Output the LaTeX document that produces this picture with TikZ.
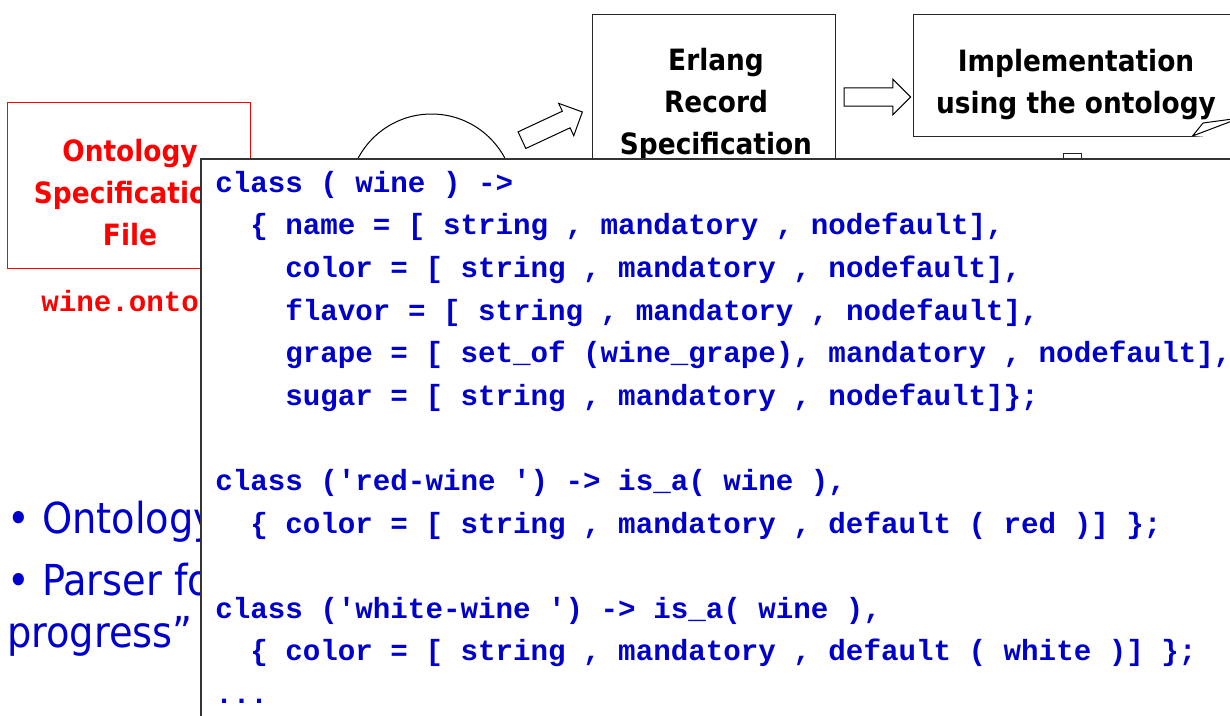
\documentclass[tikz,border=0pt]{standalone}
\usepackage{fontspec}
\usetikzlibrary{positioning,shapes.arrows}
\IfFontExistsTF{DejaVu Sans Condensed}
  {\newfontfamily\labelfont{DejaVu Sans Condensed}}
  {\newfontfamily\labelfont[FakeStretch=0.9]{DejaVu Sans}}
\newfontfamily\codefont[Ligatures=TeXOff]{Liberation Mono}
\definecolor{codeblue}{RGB}{0,0,204}
\definecolor{specred}{RGB}{255,0,0}

\begin{document}
\begin{tikzpicture}[x=0.75pt,y=-0.75pt]
    \tikzstyle{box}=[draw=black!85,line width=0.75pt,inner sep=0pt]
    \tikzstyle{lbl}=[font=\labelfont\bfseries\fontsize{22}{31.5}\selectfont,align=center,inner sep=0pt]
    \tikzstyle{code}=[font=\codefont\bfseries\fontsize{21.9}{31.95}\selectfont,text=codeblue,align=left,inner sep=0pt]
    \tikzstyle{bul}=[font=\labelfont\fontsize{32}{39}\selectfont,text=codeblue,inner sep=0pt,anchor=base west]
    \tikzstyle{blkarrow}=[single arrow,draw=black,line width=0.75pt,fill=white,inner xsep=0pt,inner ysep=6.5pt,
                          single arrow head extend=6.5pt,minimum height=50pt]
    \useasboundingbox (0,0) rectangle (1230,715);

    % left: spec file
    \node[box,draw=specred,minimum width=182.25pt,minimum height=124.5pt] (spec) at (128.5,185) {};
    \node[lbl,text=specred] (spectxt) at (130,192.5) {Ontology\\Specification\\File};
    \node[code,text=specred,anchor=base west] (file) at (41,311) {wine.onto};

    % parser and generated records
    \node[draw,circle,line width=0.75pt,minimum size=124.5pt,inner sep=0pt] (parser) at (431.5,197) {};
    \node[blkarrow,rotate=25] (a1) at (548,128) {};
    \node[box,minimum width=182.25pt,minimum height=124.5pt] (erl) at (713.5,97) {};
    \node[lbl] (erltxt) at (716,104.5) {Erlang\\Record\\Specification};
    \node[blkarrow,right=6pt of erl] (a2) {};
    \node[box,right=57.75pt of erl.north east,anchor=north west,minimum width=246pt,minimum height=91.5pt] (impl) {};
    \node[lbl] (impltxt) at (1076,84.5) {Implementation\\using the ontology};
    % folded corner
    \fill[white] (1192.5,136) -- (1250,140) -- (1250,110) -- cycle;
    \draw[line width=0.75pt,fill=white,line join=bevel] (1192.5,136) -- (1203,123) -- (1240,118) -- cycle;
    \node[box,minimum width=13.5pt,minimum height=12pt,anchor=north] (down) at (1072,153) {};

    % bullets
    \node[bul] (bul1) at (7,533) {• Ontology};
    \node[bul] (bul2) at (7,595) {• Parser for};
    \node[bul] (bul3) at (7,647) {progress”};

    % code listing on top (base = last line)
    \node[draw=black!80,line width=1.5pt,fill=white,anchor=north west,minimum width=800pt,minimum height=450pt] (listing) at (200,158) {};
    \node[code,anchor=base west] (src) at (215,703.5) {%
      class ( wine ) ->\\
      \hphantom{xx}\{ name = [ string , mandatory , nodefault],\\
      \hphantom{xxxx}color = [ string , mandatory , nodefault],\\
      \hphantom{xxxx}flavor = [ string , mandatory , nodefault],\\
      \hphantom{xxxx}grape = [ set\_of (wine\_grape), mandatory , nodefault],\\
      \hphantom{xxxx}sugar = [ string , mandatory , nodefault]\};\\[31.95pt]
      class ('red-wine ') -> is\_a( wine ),\\
      \hphantom{xx}\{ color = [ string , mandatory , default ( red )] \};\\[31.95pt]
      class ('white-wine ') -> is\_a( wine ),\\
      \hphantom{xx}\{ color = [ string , mandatory , default ( white )] \};\\
      ...};
\end{tikzpicture}
\end{document}
